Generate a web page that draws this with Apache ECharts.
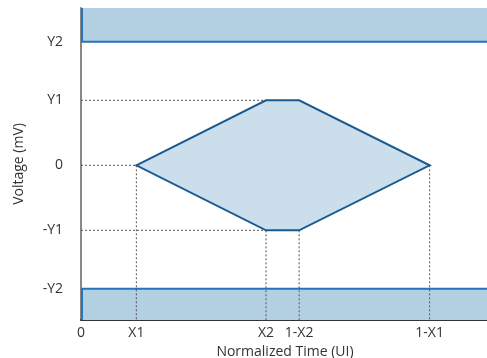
<!DOCTYPE html>
<html><head><meta charset="utf-8">
<script src="https://cdn.jsdelivr.net/npm/echarts@6/dist/echarts.min.js"></script>
<style>html,body{margin:0;padding:0;background:#fff}#c{width:487px;height:358px}</style>
</head><body><div id="c"></div>
<script>
// Normalized time positions (UI)
const X1 = 0.137, X2 = 0.458, X2R = 0.54, X1R = 0.863;
const xTickValues = [0, X1, X2, X2R, X1R];
const xTickLabels = ['0', 'X1', 'X2', '1-X2', '1-X1'];
// Voltage levels (mV)
const Y1 = 100, Y2 = 190;
const yTickValues = [-Y2, -Y1, 0, Y1, Y2];
const yTickLabels = ['-Y2', '-Y1', '0', 'Y1', 'Y2'];
const xMin = 0, xMax = 1.01, yMin = -238, yMax = 242;
// Eye mask polygon
const maskX = [X1, X2, X2R, X1R, X2R, X2];
const maskY = [0, Y1, Y1, 0, -Y1, -Y1];
// Guide lines
const guides = [
  [[xMin, Y1], [X2, Y1]],
  [[xMin, 0], [X1, 0]],
  [[xMin, -Y1], [X2, -Y1]],
  [[X1, 0], [X1, yMin]],
  [[X2, -Y1], [X2, yMin]],
  [[X2R, -Y1], [X2R, yMin]],
  [[X1R, 0], [X1R, yMin]]
];

const font = '"Open Sans", Lato, sans-serif';
const chart = echarts.init(document.getElementById('c'), null, {renderer: 'canvas'});
const series = [];
// bands
series.push({
  type: 'custom', clip: true, z: 2,
  data: [[xMin, Y2, xMax + 0.05, yMax + 10], [xMin, yMin - 10, xMax + 0.05, -Y2]],
  renderItem: function (params, api) {
    const p1 = api.coord([api.value(0), api.value(3)]);
    const p2 = api.coord([api.value(2), api.value(1)]);
    return {type: 'rect', shape: {x: p1[0] + 1, y: p1[1], width: p2[0] - p1[0], height: p2[1] - p1[1]},
      style: {fill: '#b3cfe2', stroke: '#2474be', lineWidth: 2}};
  }
});
guides.forEach(function (g) {
  series.push({type: 'line', data: g, symbol: 'none', z: 3, silent: true,
    lineStyle: {color: '#555', width: 1, type: [2, 2]}});
});
series.push({
  type: 'custom', z: 4,
  data: [0],
  renderItem: function (params, api) {
    const pts = maskX.map(function (x, i) { return api.coord([x, maskY[i]]); });
    return {type: 'polygon', shape: {points: pts},
      style: {fill: 'rgba(168,200,224,0.6)', stroke: '#1b5a8f', lineWidth: 2, lineJoin: 'miter'}};
  }
});

chart.setOption({
  animation: false,
  grid: {left: 81, right: -2, top: 8, bottom: 38, outerBoundsMode: 'none', containLabel: false},
  xAxis: {
    type: 'value', min: xMin, max: xMax,
    name: 'Normalized Time (UI)', nameLocation: 'middle', nameGap: 19,
    nameTextStyle: {fontFamily: font, fontSize: 14, color: '#333'},
    axisLine: {show: true, onZero: false, lineStyle: {color: '#333', width: 2}},
    axisTick: {show: false},
    splitLine: {show: false},
    axisLabel: {customValues: xTickValues, fontFamily: font, fontSize: 14, color: '#333', margin: 6,
      formatter: function (v) { const i = xTickValues.indexOf(v); return i >= 0 ? xTickLabels[i] : ''; }}
  },
  yAxis: {
    type: 'value', min: yMin, max: yMax,
    name: 'Voltage (mV)', nameLocation: 'middle', nameGap: 55, nameRotate: 90,
    nameTextStyle: {fontFamily: font, fontSize: 14, color: '#333'},
    axisLine: {show: true, onZero: false, lineStyle: {color: '#888', width: 2}},
    axisTick: {show: false},
    splitLine: {show: false},
    axisLabel: {customValues: yTickValues, fontFamily: font, fontSize: 14, color: '#333', margin: 18,
      formatter: function (v) { const i = yTickValues.indexOf(v); return i >= 0 ? yTickLabels[i] : ''; }}
  },
  series: series
});
</script></body></html>
